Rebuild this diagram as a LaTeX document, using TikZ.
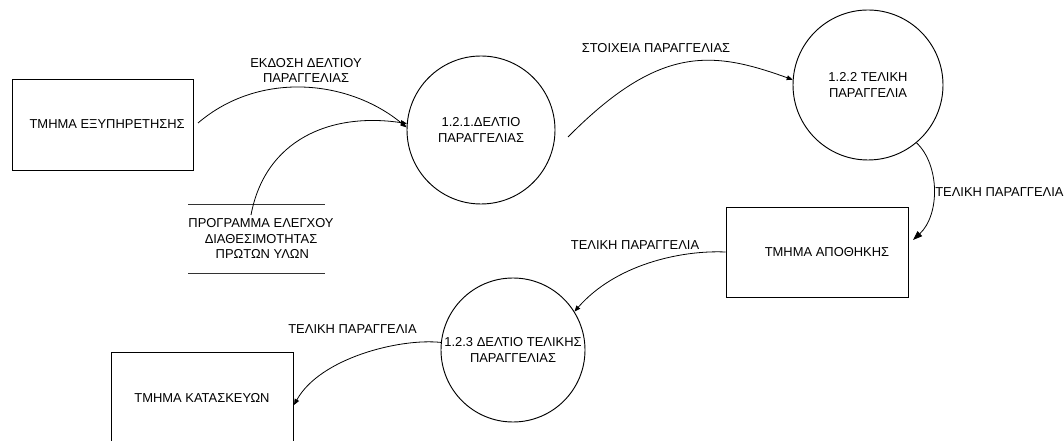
\documentclass[tikz,border=0pt]{standalone}
\usepackage{fontspec}
\setmainfont{Liberation Sans}
\usetikzlibrary{arrows.meta}
\begin{document}
\begin{tikzpicture}[x=0.75pt,y=-0.75pt,
  every node/.style={font=\fontsize{9.7pt}{12.7pt}\selectfont, inner sep=0pt},
  box/.style={draw, line width=0.7pt, minimum width=#1*0.75pt, minimum height=91*0.75pt},
  proc/.style={draw, circle, line width=0.7pt, minimum size=#1*0.75pt, align=center},
  store/.style={line width=0.7pt, draw=black!80},
  flow/.style={line width=0.6pt, -{Triangle[length=4.5pt,width=3.6pt]}},
  bigflow/.style={line width=0.6pt, -{Triangle[length=7pt,width=5pt]}},
  lbl/.style={align=center, font=\fontsize{9.7pt}{11.3pt}\selectfont}]
\clip (0,0) rectangle (1064,441);
\fill[white] (0,0) rectangle (1064,441);

% external entities
\node[box=181] (b1) at (102.5,124.5) {\hspace*{7pt}ΤΜΗΜΑ ΕΞΥΠΗΡΕΤΗΣΗΣ};
\node[box=182, minimum height=90*0.75pt, label={[xshift=7.5pt]center:ΤΜΗΜΑ ΑΠΟΘΗΚΗΣ}] (b2) at (817,252) {};
\node[box=182, minimum height=92*0.75pt] (b3) at (202,398) {ΤΜΗΜΑ ΚΑΤΑΣΚΕΥΩΝ};

% processes
\node[proc=148] (c1) at (481,130) {1.2.1.ΔΕΛΤΙΟ\\ΠΑΡΑΓΓΕΛΙΑΣ};
\node[proc=150] (c2) at (868,85) {1.2.2 ΤΕΛΙΚΗ\\ΠΑΡΑΓΓΕΛΙΑ};
\node[proc=144] (c3) at (513,350) {1.2.3 ΔΕΛΤΙΟ ΤΕΛΙΚΗΣ\\ΠΑΡΑΓΓΕΛΙΑΣ};

% data store
\coordinate (dsTL) at (188,204);
\coordinate (dsTR) at (325,204);
\coordinate (dsBL) at (188,273);
\coordinate (dsBR) at (325,273);
\draw[store] (dsTL) -- (dsTR);
\draw[store] (dsBL) -- (dsBR);
\node[lbl, font=\fontsize{9.7pt}{11.6pt}\selectfont] (ds) at (261,238.5) {ΠΡΟΓΡΑΜΜΑ ΕΛΕΓΧΟΥ\\ΔΙΑΘΕΣΙΜΟΤΗΤΑΣ\\\hspace*{2pt}ΠΡΩΤΩΝ ΥΛΩΝ};

% free ends
\coordinate (a1s) at (198,123);
\coordinate (a2s) at (251,215);
\coordinate (a3s) at (568,137);
\coordinate (a4e) at (913,240);
\coordinate (a6e) at (294,405);

% flows
\draw[flow] (a1s) .. controls (260,70) and (350,80) .. (c1.178);
\draw[flow] (a2s) .. controls (265,140) and (330,112) .. (c1.175);
\draw[flow] (a3s) .. controls (660,44) and (713,51) .. (c2.176);
\draw[bigflow] (c2.-50) .. controls (940,165) and (940,215) .. (a4e);
\draw[flow] (b2.west) .. controls (680,250) and (615,265) .. (c3.32);
\draw[flow] (c3.174) .. controls (400,338) and (320,358) .. (a6e);

% flow labels
\node[lbl] (l1) at (306,70.5) {ΕΚΔΟΣΗ ΔΕΛΤΙΟΥ\\ΠΑΡΑΓΓΕΛΙΑΣ};
\node[lbl] (l3) at (656,48) {ΣΤΟΙΧΕΙΑ ΠΑΡΑΓΓΕΛΙΑΣ};
\node[lbl, anchor=west] (l4) at (935,192) {ΤΕΛΙΚΗ ΠΑΡΑΓΓΕΛΙΑ};
\node[lbl] (l5) at (635,245) {ΤΕΛΙΚΗ ΠΑΡΑΓΓΕΛΙΑ};
\node[lbl] (l6) at (352.5,329) {ΤΕΛΙΚΗ ΠΑΡΑΓΓΕΛΙΑ};
\end{tikzpicture}
\end{document}
